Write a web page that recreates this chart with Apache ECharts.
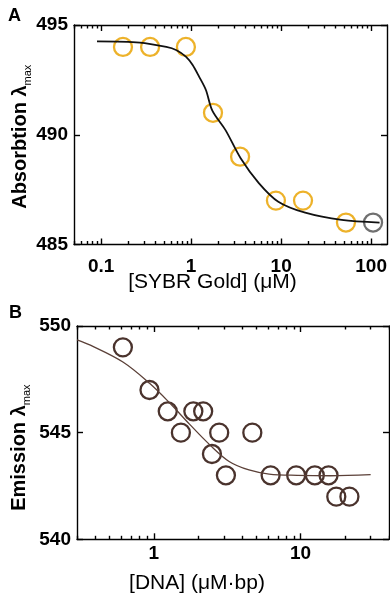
<!DOCTYPE html>
<html>
<head>
<meta charset="utf-8">
<script src="https://cdn.jsdelivr.net/npm/echarts@6/dist/echarts.min.js"></script>
<style>
  html, body { margin: 0; padding: 0; background: #fff; }
  #chart { width: 390px; height: 596px; }
</style>
</head>
<body>
<div id="chart"></div>
<script>
/* global echarts:false */
// panel A - absorption peak vs [SYBR Gold]
const sybrConc = [0.175, 0.35, 0.875, 1.75, 3.5, 8.75, 17.5, 52.5, 105]
const absMax = [494, 494, 494, 491, 489, 487, 487, 486, 486]
const absFitX = [0.09, 0.27, 0.53, 0.68, 0.88, 1.04, 1.23, 1.46, 1.72, 2.42, 3.55, 5.65, 9.3, 18.5, 47, 124]
const absFitY = [494.25, 494.2, 494.0, 493.86, 493.55, 493.18, 492.64, 492.04, 491.1, 490.2, 488.93, 487.8, 486.95, 486.45, 486.12, 486.0]
const absTickLabels = [0.1, 1, 10, 100]
const absYTicks = [485, 490, 495]

// panel B - emission peak vs [DNA]
const dnaConc = [0.616, 0.935, 1.245, 1.53, 1.86, 2.17, 2.49, 2.79, 3.1, 4.69, 6.25, 9.33, 12.5, 15.5, 17.5, 21.5]
const emMax = [549, 547, 546, 545, 546, 546, 544, 545, 543, 545, 543, 543, 543, 543, 542, 542]
const emFitX = [0.3, 0.37, 0.62, 0.94, 1.28, 1.75, 2.39, 3.26, 4.45, 6.1, 9.5, 16, 30]
const emFitY = [549.35, 549.1, 548.3, 547.3, 546.4, 545.4, 544.45, 543.65, 543.25, 543.06, 543.0, 542.98, 543.03]
const dnaTickLabels = [1, 10]
const emYTicks = [540, 545, 550]

const FONT = '"Liberation Sans", Arial, Helvetica, sans-serif'
const ORANGE = '#edb22a'
const GREY = '#707070'
const BROWN = '#4a332d'

const pairs = (xs, ys) => xs.map((x, i) => [Math.log10(x), ys[i]])
const fmtPow = v => String(+Math.pow(10, v).toPrecision(2))
// fresh object each time - echarts drops the ticks if axisLine and axisTick share one lineStyle
const frame = () => ({ color: '#000', width: 1.4 })

// four x axes per panel: bottom/top, major/minor ticks (log decades drawn on a log10 value axis)
function logXAxes (gridIndex, lo, hi, labels, extra) {
  const min = Math.log10(lo)
  const max = Math.log10(hi)
  const major = []
  const minor = []
  for (let e = Math.floor(min); e <= Math.ceil(max); e++) {
    major.push(e)
    for (let m = 2; m < 10; m++) minor.push(e + Math.log10(m))
  }
  const inRange = v => v >= min - 1e-9 && v <= max + 1e-9
  const base = () => ({
    type: 'value',
    gridIndex,
    min,
    max,
    splitLine: { show: false },
    axisLine: { show: false },
    axisLabel: { show: false },
    nameMoveOverlap: false
  })
  const ticks = (len, vals) => ({ show: true, inside: true, length: len, lineStyle: frame(), customValues: vals.filter(inRange) })
  return [
    Object.assign(base(), {
      position: 'bottom',
      axisLine: { show: true, onZero: false, lineStyle: frame() },
      axisTick: ticks(6, major),
      axisLabel: {
        show: true,
        customValues: labels.map(Math.log10),
        formatter: fmtPow,
        margin: extra.labelMargin,
        fontFamily: FONT,
        fontWeight: 'bold',
        fontSize: 19,
        color: '#000'
      },
      name: extra.name,
      nameLocation: 'middle',
      nameGap: extra.nameGap,
      nameTextStyle: {
        fontFamily: FONT,
        fontSize: 21,
        color: '#000',
        padding: extra.namePad
      }
    }),
    Object.assign(base(), { position: 'bottom', axisTick: ticks(3.5, minor) }),
    Object.assign(base(), {
      position: 'top',
      axisLine: { show: true, onZero: false, lineStyle: frame() },
      axisTick: ticks(6, major)
    }),
    Object.assign(base(), { position: 'top', axisTick: ticks(3.5, minor) })
  ]
}

function yAxes (gridIndex, ticks, name, nameGap, namePad) {
  const base = () => ({
    type: 'value',
    gridIndex,
    min: ticks[0],
    max: ticks[ticks.length - 1],
    interval: ticks[1] - ticks[0],
    splitLine: { show: false },
    axisLine: { show: true, onZero: false, lineStyle: frame() },
    axisTick: { show: true, inside: true, length: 6, lineStyle: frame() },
    nameMoveOverlap: false
  })
  return [
    Object.assign(base(), {
      position: 'left',
      axisLabel: { margin: 6, fontFamily: FONT, fontWeight: 'bold', fontSize: 19, color: '#000' },
      name: '{t|' + name + ' λ}{s|max}',
      nameLocation: 'middle',
      nameGap,
      nameTextStyle: {
        padding: namePad,
        rich: {
          t: { fontFamily: FONT, fontWeight: 'bold', fontSize: 20, color: '#000', lineHeight: 26 },
          s: { fontFamily: FONT, fontSize: 11, color: '#000', verticalAlign: 'bottom', lineHeight: 10 }
        }
      }
    }),
    Object.assign(base(), {
      position: 'right',
      axisLabel: { show: false }
    })
  ]
}

const chart = echarts.init(document.getElementById('chart'))

const option = {
  animation: false,
  backgroundColor: '#fff',
  title: [
    { text: 'A', left: 8, top: 7, padding: 0, textStyle: { fontFamily: FONT, fontWeight: 'bold', fontSize: 18, color: '#000' } },
    { text: 'B', left: 9, top: 304, padding: 0, textStyle: { fontFamily: FONT, fontWeight: 'bold', fontSize: 18, color: '#000' } }
  ],
  grid: [
    { left: 74, top: 25, width: 315, height: 219.5 },
    { left: 77, top: 326, width: 312, height: 213.3 }
  ],
  xAxis: [
    ...logXAxes(0, 0.05, 150, absTickLabels, { name: '[SYBR Gold] (μM)', nameGap: 27, namePad: [0, 36, 0, 0], labelMargin: 13 }),
    ...logXAxes(1, 0.3, 40, dnaTickLabels, { name: '[DNA] (μM·bp)', nameGap: 33, namePad: [0, 72, 0, 0], labelMargin: 5 })
  ],
  yAxis: [
    ...yAxes(0, absYTicks, 'Absorbtion', 41, [0, 4, 0, 0]),
    ...yAxes(1, emYTicks, 'Emission', 45, [0, 30, 0, 0])
  ],
  series: [
    {
      type: 'line',
      xAxisIndex: 0,
      yAxisIndex: 0,
      data: pairs(absFitX, absFitY),
      showSymbol: false,
      smooth: 0.3,
      lineStyle: { color: '#111', width: 1.8 },
      z: 3
    },
    {
      type: 'scatter',
      xAxisIndex: 0,
      yAxisIndex: 0,
      symbolSize: 18,
      data: pairs(sybrConc, absMax).map((p, i) => ({
        value: p,
        itemStyle: { borderColor: i === sybrConc.length - 1 ? GREY : ORANGE }
      })),
      itemStyle: { color: 'rgba(0,0,0,0)', borderColor: ORANGE, borderWidth: 2.3, opacity: 1 },
      z: 2
    },
    {
      type: 'line',
      xAxisIndex: 4,
      yAxisIndex: 2,
      data: pairs(emFitX, emFitY),
      showSymbol: false,
      smooth: 0.35,
      lineStyle: { color: '#5b4038', width: 1.3 },
      z: 3
    },
    {
      type: 'scatter',
      xAxisIndex: 4,
      yAxisIndex: 2,
      symbolSize: 18,
      data: pairs(dnaConc, emMax),
      itemStyle: { color: 'rgba(0,0,0,0)', borderColor: BROWN, borderWidth: 2.3, opacity: 1 },
      z: 2
    }
  ]
}

chart.setOption(option)

window.onresize = () => {
  chart.resize()
}
</script>
</body>
</html>
